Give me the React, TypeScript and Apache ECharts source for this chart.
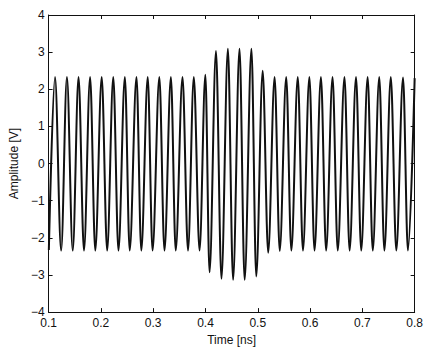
import React, { useEffect, useRef } from "react";
import * as echarts from "echarts";

// Extrema (peaks and troughs) of the waveform
const timeNs: number[] = [
  0.1005, 0.1123, 0.124, 0.1351, 0.1462, 0.1573, 0.1677, 0.1794, 0.1893, 0.2016,
  0.212, 0.2237, 0.2336, 0.2459, 0.2551, 0.2681, 0.2773, 0.2896, 0.2988, 0.3118,
  0.3216, 0.3339, 0.3431, 0.3561, 0.3666, 0.3777, 0.3887, 0.3998, 0.4078, 0.4201,
  0.4306, 0.4429, 0.4528, 0.4651, 0.4749, 0.4879, 0.4971, 0.5094, 0.5199, 0.5322,
  0.542, 0.5544, 0.5642, 0.5765, 0.5864, 0.5987, 0.6085, 0.6208, 0.6307, 0.643,
  0.6529, 0.6658, 0.6756, 0.6879, 0.6978, 0.7101, 0.7199, 0.7323, 0.7421, 0.7544,
  0.7649, 0.7778, 0.7871, 0.8,
];
const amplitudeV: number[] = [
  -2.33, 2.33, -2.34, 2.33, -2.34, 2.33, -2.34, 2.33, -2.34, 2.33,
  -2.34, 2.33, -2.34, 2.33, -2.34, 2.33, -2.34, 2.33, -2.34, 2.33,
  -2.34, 2.33, -2.34, 2.33, -2.34, 2.33, -2.34, 2.39, -2.93, 3.03,
  -3.1, 3.09, -3.13, 3.09, -3.13, 3.09, -3.04, 2.5, -2.4, 2.33,
  -2.35, 2.33, -2.34, 2.33, -2.34, 2.33, -2.34, 2.33, -2.34, 2.33,
  -2.34, 2.33, -2.34, 2.33, -2.34, 2.33, -2.34, 2.33, -2.34, 2.33,
  -2.34, 2.32, -2.34, 2.3,
];
const xTicks = { min: 0.1, max: 0.8, step: 0.1 };
const yTicks = { min: -4, max: 4, step: 1 };

const FONT = "Liberation Sans";
const INK = "#111";

export default function App() {
  const ref = useRef<HTMLDivElement>(null);
  useEffect(() => {
    if (!ref.current) return;
    const chart = echarts.init(ref.current, undefined, { renderer: "svg" });
    const data = timeNs.map((t, i) => [t, amplitudeV[i]]);
    const axisLine = { show: true, onZero: false, lineStyle: { color: INK, width: 1 } };
    const tick = { show: true, inside: true, length: 4, lineStyle: { color: INK, width: 1 } };
    const minus = (s: string) => s.replace("-", "\u2212");
    chart.setOption({
      animation: false,
      backgroundColor: "#fff",
      grid: { left: 37.7, right: 9.3, top: 15, bottom: 35.3, containLabel: false },
      xAxis: [
        {
          type: "value",
          min: xTicks.min,
          max: xTicks.max,
          interval: xTicks.step,
          name: "Time [ns]",
          nameLocation: "middle",
          nameGap: 18,
          nameTextStyle: { fontFamily: FONT, fontSize: 12, color: INK },
          axisLine,
          axisTick: tick,
          splitLine: { show: false },
          axisLabel: {
            fontFamily: FONT,
            fontSize: 12,
            color: INK,
            margin: 5,
            formatter: (v: number) => v.toFixed(1),
          },
        },
        {
          type: "value",
          position: "top",
          min: xTicks.min,
          max: xTicks.max,
          interval: xTicks.step,
          axisLine,
          axisTick: tick,
          splitLine: { show: false },
          axisLabel: { show: false },
        },
      ],
      yAxis: [
        {
          type: "value",
          min: yTicks.min,
          max: yTicks.max,
          interval: yTicks.step,
          name: "Amplitude [V]",
          nameLocation: "middle",
          nameGap: 21,
          nameTextStyle: { fontFamily: FONT, fontSize: 12, color: INK },
          axisLine,
          axisTick: tick,
          splitLine: { show: false },
          axisLabel: {
            fontFamily: FONT,
            fontSize: 12,
            color: INK,
            margin: 4,
            formatter: (v: number) => minus(String(v)),
          },
        },
        {
          type: "value",
          position: "right",
          min: yTicks.min,
          max: yTicks.max,
          interval: yTicks.step,
          axisLine,
          axisTick: tick,
          splitLine: { show: false },
          axisLabel: { show: false },
        },
      ],
      series: [
        {
          type: "line",
          data,
          showSymbol: false,
          smooth: 0.34,
          smoothMonotone: "x",
          lineStyle: { color: INK, width: 2 },
          clip: true,
        },
      ],
    });
    return () => chart.dispose();
  }, []);
  return <div ref={ref} style={{ width: 426, height: 351, position: "absolute", left: 0, top: 0 }} />;
}
